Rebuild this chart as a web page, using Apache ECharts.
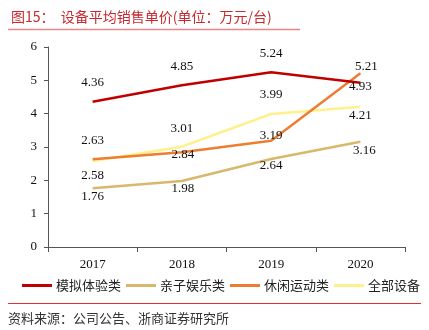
<!DOCTYPE html>
<html>
<head>
<meta charset="utf-8">
<script src="https://cdn.jsdelivr.net/npm/echarts@6/dist/echarts.min.js"></script>
<style>
  html, body { margin: 0; padding: 0; background: #fff; }
  #chart { width: 429px; height: 330px; }
</style>
</head>
<body>
<div id="chart"></div>
<script>
// Years on the x axis
const years = ['2017', '2018', '2019', '2020'];

// Average selling price per device type (万元/台)
const simulation = [4.36, 4.85, 5.24, 4.93];   // 模拟体验类
const family = [1.76, 1.98, 2.64, 3.16];       // 亲子娱乐类
const leisure = [2.63, 2.84, 3.19, 5.21];      // 休闲运动类
const allDevices = [2.58, 3.01, 3.99, 4.21];   // 全部设备

const seriesNames = ['模拟体验类', '亲子娱乐类', '休闲运动类', '全部设备'];
const yTicks = [0, 1, 2, 3, 4, 5, 6];

// Label placement for each point, [dx, dy] from the point
const labelShift = [
  [[0, -19], [0, -19], [0, -19], [0, 4]],
  [[0, 8], [1, 8], [0, 7], [4, 9]],
  [[0, -19], [1, 2], [0, -5], [6, -7]],
  [[0, 15], [0, -18], [0, -19], [0, 9]]
];
const colors = ['#c00000', '#d8b86a', '#ed7d31', '#fff08c'];
const serif = '"Liberation Serif", "Times New Roman", serif';
const cjk = '"Noto Sans CJK SC", sans-serif';

const values = [simulation, family, leisure, allDevices];

const chart = echarts.init(document.getElementById('chart'), null, { renderer: 'canvas' });

chart.setOption({
  animation: false,
  color: colors,
  title: {
    text: '图15：  设备平均销售单价(单位：万元/台)',
    left: 6,
    top: 5,
    textStyle: { color: '#c8282e', fontSize: 14, fontWeight: 'normal', fontFamily: cjk }
  },
  grid: { left: 48, right: 24, top: 47, bottom: 83 },
  legend: {
    data: seriesNames,
    top: 279,
    left: 22,
    width: 405,
    padding: 0,
    itemWidth: 30,
    itemHeight: 3,
    itemGap: 5,
    icon: 'rect',
    textStyle: { fontSize: 13, color: '#222', fontFamily: cjk, padding: [0, 0, 0, -1] }
  },
  xAxis: {
    type: 'category',
    data: years,
    boundaryGap: true,
    axisLine: { lineStyle: { color: '#555', width: 1 } },
    axisTick: { show: true, length: 5, lineStyle: { color: '#555' } },
    axisLabel: { color: '#111', fontSize: 13, fontFamily: serif, margin: 11 }
  },
  yAxis: {
    type: 'value',
    min: yTicks[0],
    max: yTicks[yTicks.length - 1],
    interval: 1,
    splitLine: { show: false },
    axisLine: { show: true, lineStyle: { color: '#555', width: 1 } },
    axisTick: { show: true, length: 4, lineStyle: { color: '#555' } },
    axisLabel: { color: '#111', fontSize: 13, fontFamily: serif, margin: 11 }
  },
  series: seriesNames.map((name, i) => ({
    name: name,
    type: 'line',
    symbol: 'circle',
    symbolSize: 0,
    showSymbol: true,
    lineStyle: { width: 2.5, color: colors[i] },
    itemStyle: { color: colors[i] },
    z: 10 - i,
    data: values[i].map((v, j) => ({
      value: v,
      label: {
        show: true,
        position: 'inside',
        offset: labelShift[i][j],
        color: '#111',
        fontSize: 13,
        fontFamily: serif
      }
    }))
  })),
  graphic: [
    {
      type: 'line',
      shape: { x1: 8, y1: 29.5, x2: 300, y2: 29.5 },
      style: { stroke: '#e8868a', lineWidth: 1.5 }
    },
    {
      type: 'line',
      shape: { x1: 8, y1: 303.5, x2: 421, y2: 303.5 },
      style: { stroke: '#e0302f', lineWidth: 1 }
    },
    {
      type: 'text',
      left: 8,
      top: 312,
      style: { text: '资料来源：公司公告、浙商证券研究所', fill: '#333', fontSize: 13, fontFamily: cjk }
    }
  ]
});
</script>
</body>
</html>
